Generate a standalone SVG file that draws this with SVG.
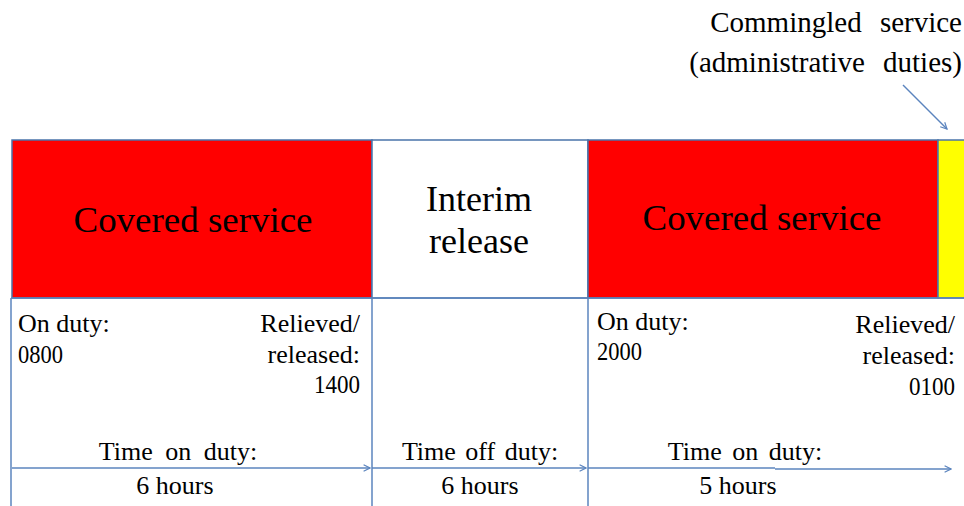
<svg xmlns="http://www.w3.org/2000/svg" width="964" height="506" viewBox="0 0 964 506">
<defs>
<style>
.box{stroke:#4a74aa;stroke-width:1.5}
.ln{stroke:#5b84be;stroke-width:1.5;fill:none}
</style>
<marker id="ah" viewBox="0 0 10 10" refX="9" refY="5" markerWidth="8" markerHeight="8" markerUnits="userSpaceOnUse" orient="auto">
<path d="M1,1 L9,5 L1,9" fill="none" stroke="#5b84be" stroke-width="1.5"/>
</marker>
</defs>
<rect width="964" height="506" fill="#fff"/>
<g id="covered1">
<rect class="box" x="12" y="140" width="360" height="158" fill="#ff0000"/>
<text font-family="Liberation Serif" style="font-family:'Liberation Serif',serif !important" font-size="36" text-anchor="middle" x="193" y="232" textLength="239" lengthAdjust="spacingAndGlyphs"><tspan font-family="Liberation Serif" style="font-family:'Liberation Serif',serif !important">Covered service</tspan></text>
</g>
<g id="interim">
<rect class="box" x="372" y="140" width="216" height="158" fill="#ffffff"/>
<text font-family="Liberation Serif" style="font-family:'Liberation Serif',serif !important" font-size="36" text-anchor="middle" x="479" y="211"><tspan font-family="Liberation Serif" style="font-family:'Liberation Serif',serif !important">Interim</tspan></text>
<text font-family="Liberation Serif" style="font-family:'Liberation Serif',serif !important" font-size="36" text-anchor="middle" x="479" y="253"><tspan font-family="Liberation Serif" style="font-family:'Liberation Serif',serif !important">release</tspan></text>
</g>
<g id="covered2">
<rect class="box" x="588" y="140" width="350" height="158" fill="#ff0000"/>
<text font-family="Liberation Serif" style="font-family:'Liberation Serif',serif !important" font-size="36" text-anchor="middle" x="762" y="230" textLength="239" lengthAdjust="spacingAndGlyphs"><tspan font-family="Liberation Serif" style="font-family:'Liberation Serif',serif !important">Covered service</tspan></text>
</g>
<g id="commingled">
<rect class="box" x="938" y="140" width="30" height="158" fill="#ffff00"/>
<text font-family="Liberation Serif" style="font-family:'Liberation Serif',serif !important" font-size="29" text-anchor="end" x="962" y="32" word-spacing="11"><tspan font-family="Liberation Serif" style="font-family:'Liberation Serif',serif !important">Commingled service</tspan></text>
<text font-family="Liberation Serif" style="font-family:'Liberation Serif',serif !important" font-size="29" text-anchor="end" x="962" y="72" word-spacing="11"><tspan font-family="Liberation Serif" style="font-family:'Liberation Serif',serif !important">(administrative duties)</tspan></text>
</g>
<g id="grid">
<line class="ln" x1="11" y1="298" x2="964" y2="298"/>
<line class="ln" x1="11" y1="298" x2="11" y2="506"/>
<line class="ln" x1="372" y1="298" x2="372" y2="506"/>
<line class="ln" x1="588" y1="298" x2="588" y2="506"/>
</g>
<g id="cell1">
<text font-family="Liberation Serif" style="font-family:'Liberation Serif',serif !important" font-size="26" x="18" y="332"><tspan font-family="Liberation Serif" style="font-family:'Liberation Serif',serif !important">On duty:</tspan></text>
<text font-family="Liberation Serif" style="font-family:'Liberation Serif',serif !important" font-size="26" x="18" y="363" textLength="45" lengthAdjust="spacingAndGlyphs"><tspan font-family="Liberation Serif" style="font-family:'Liberation Serif',serif !important">0800</tspan></text>
<text font-family="Liberation Serif" style="font-family:'Liberation Serif',serif !important" font-size="26" text-anchor="end" x="360" y="332"><tspan font-family="Liberation Serif" style="font-family:'Liberation Serif',serif !important">Relieved/</tspan></text>
<text font-family="Liberation Serif" style="font-family:'Liberation Serif',serif !important" font-size="26" text-anchor="end" x="360" y="363"><tspan font-family="Liberation Serif" style="font-family:'Liberation Serif',serif !important">released:</tspan></text>
<text font-family="Liberation Serif" style="font-family:'Liberation Serif',serif !important" font-size="26" x="314" y="393" textLength="46" lengthAdjust="spacingAndGlyphs"><tspan font-family="Liberation Serif" style="font-family:'Liberation Serif',serif !important">1400</tspan></text>
<text font-family="Liberation Serif" style="font-family:'Liberation Serif',serif !important" font-size="26" text-anchor="middle" x="178" y="460" word-spacing="6"><tspan font-family="Liberation Serif" style="font-family:'Liberation Serif',serif !important">Time on duty:</tspan></text>
<text font-family="Liberation Serif" style="font-family:'Liberation Serif',serif !important" font-size="26" text-anchor="middle" x="175" y="494"><tspan font-family="Liberation Serif" style="font-family:'Liberation Serif',serif !important">6 hours</tspan></text>
</g>
<g id="cell2">
<text font-family="Liberation Serif" style="font-family:'Liberation Serif',serif !important" font-size="26" text-anchor="middle" x="480" y="460" word-spacing="3"><tspan font-family="Liberation Serif" style="font-family:'Liberation Serif',serif !important">Time off duty:</tspan></text>
<text font-family="Liberation Serif" style="font-family:'Liberation Serif',serif !important" font-size="26" text-anchor="middle" x="480" y="494"><tspan font-family="Liberation Serif" style="font-family:'Liberation Serif',serif !important">6 hours</tspan></text>
</g>
<g id="cell3">
<text font-family="Liberation Serif" style="font-family:'Liberation Serif',serif !important" font-size="26" x="597" y="330"><tspan font-family="Liberation Serif" style="font-family:'Liberation Serif',serif !important">On duty:</tspan></text>
<text font-family="Liberation Serif" style="font-family:'Liberation Serif',serif !important" font-size="26" x="597" y="360" textLength="45" lengthAdjust="spacingAndGlyphs"><tspan font-family="Liberation Serif" style="font-family:'Liberation Serif',serif !important">2000</tspan></text>
<text font-family="Liberation Serif" style="font-family:'Liberation Serif',serif !important" font-size="26" text-anchor="end" x="955" y="333"><tspan font-family="Liberation Serif" style="font-family:'Liberation Serif',serif !important">Relieved/</tspan></text>
<text font-family="Liberation Serif" style="font-family:'Liberation Serif',serif !important" font-size="26" text-anchor="end" x="955" y="364"><tspan font-family="Liberation Serif" style="font-family:'Liberation Serif',serif !important">released:</tspan></text>
<text font-family="Liberation Serif" style="font-family:'Liberation Serif',serif !important" font-size="26" x="909" y="395" textLength="46" lengthAdjust="spacingAndGlyphs"><tspan font-family="Liberation Serif" style="font-family:'Liberation Serif',serif !important">0100</tspan></text>
<text font-family="Liberation Serif" style="font-family:'Liberation Serif',serif !important" font-size="26" text-anchor="middle" x="745" y="460" word-spacing="4"><tspan font-family="Liberation Serif" style="font-family:'Liberation Serif',serif !important">Time on duty:</tspan></text>
<text font-family="Liberation Serif" style="font-family:'Liberation Serif',serif !important" font-size="26" text-anchor="middle" x="738" y="494"><tspan font-family="Liberation Serif" style="font-family:'Liberation Serif',serif !important">5 hours</tspan></text>
</g>
<g id="connectors">
<line class="ln" x1="12" y1="468" x2="370" y2="468" marker-end="url(#ah)"/>
<line class="ln" x1="372" y1="468" x2="586" y2="468" marker-end="url(#ah)"/>
<line class="ln" x1="588" y1="468" x2="775" y2="468"/>
<line class="ln" x1="775" y1="469" x2="951" y2="469" marker-end="url(#ah)"/>
<line class="ln" x1="903" y1="85" x2="947" y2="129" marker-end="url(#ah)"/>
</g>
</svg>
